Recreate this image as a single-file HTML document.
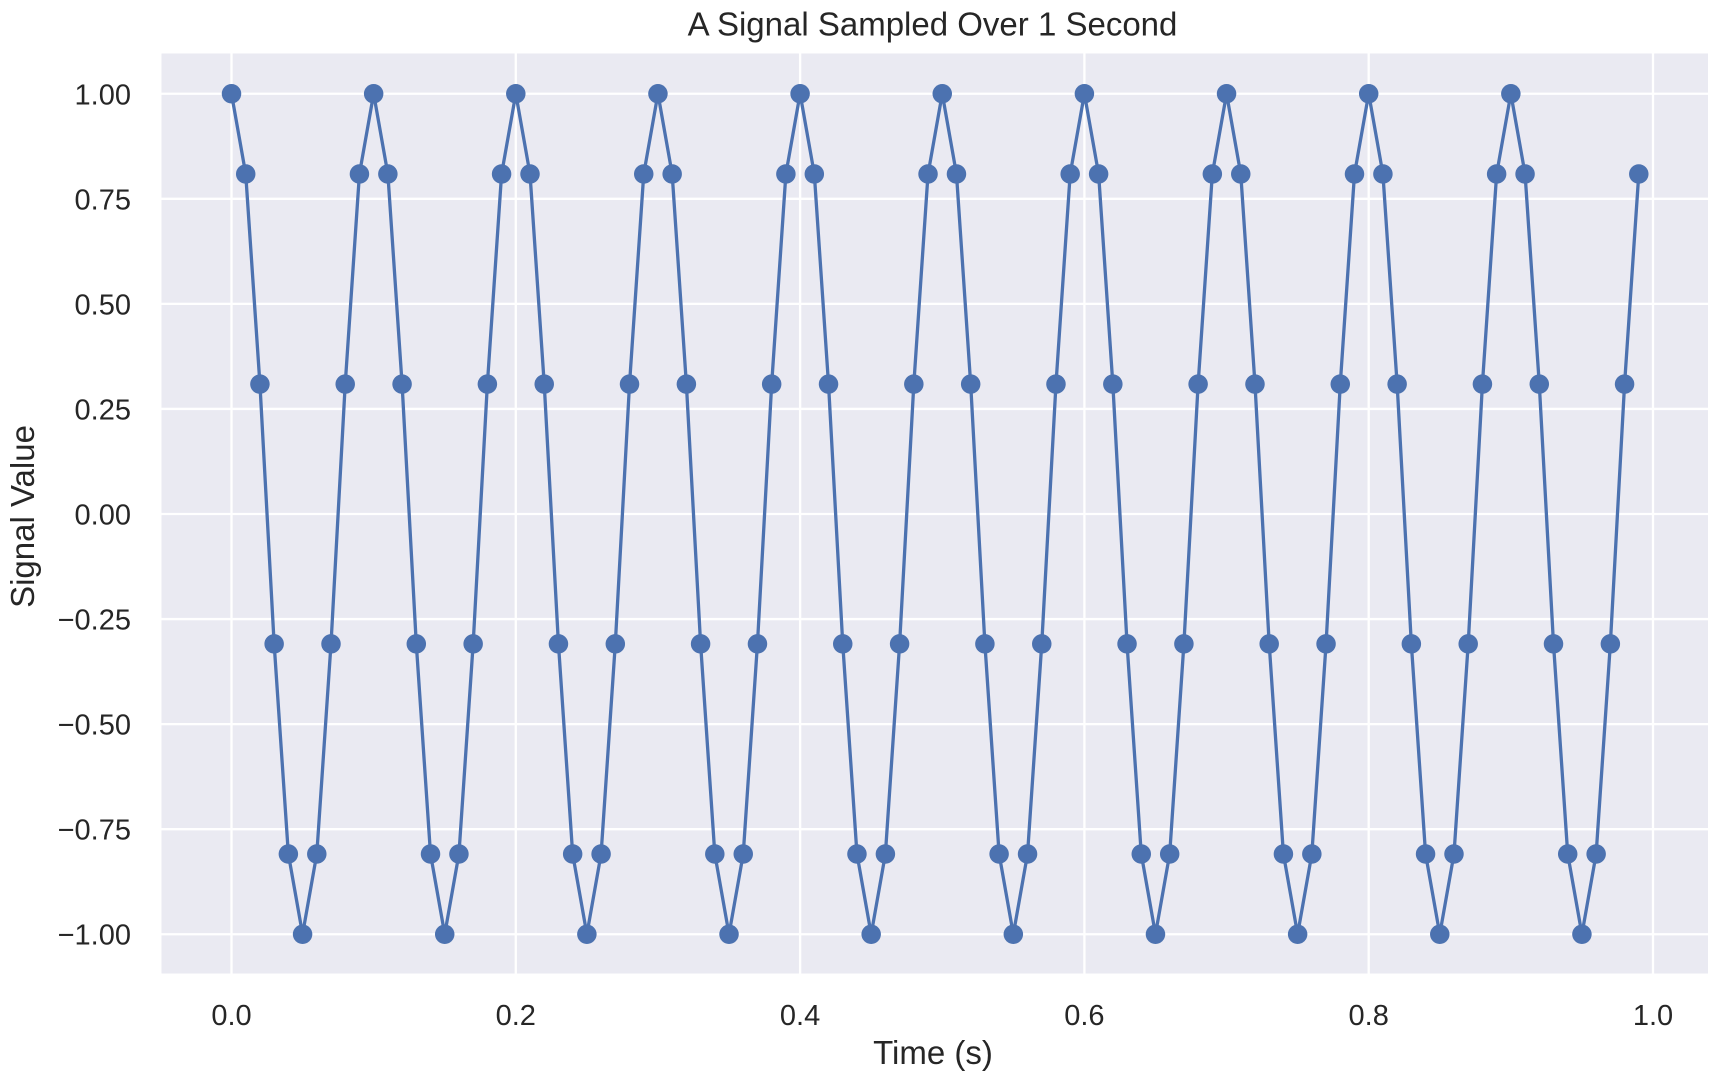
<!DOCTYPE html>
<html>
<head>
<meta charset="utf-8">
<style>
html,body{margin:0;padding:0;background:#ffffff;}
svg{display:block;}
text{font-family:"Liberation Sans",Arial,sans-serif;fill:#262626;}
</style>
</head>
<body>
<svg width="1724" height="1078" viewBox="0 0 1724 1078" xmlns="http://www.w3.org/2000/svg">
<defs>
<marker id="m" markerWidth="22" markerHeight="22" refX="11" refY="11" markerUnits="userSpaceOnUse" overflow="visible">
<circle cx="11" cy="11" r="9.75" fill="#4C72B0"/>
</marker>
</defs>
<rect x="0" y="0" width="1724" height="1078" fill="#ffffff"/>
<rect x="161.5" y="53.5" width="1546.5" height="920" fill="#EAEAF2"/>
<g stroke="#ffffff" stroke-width="2.3" fill="none">
<line x1="161.5" x2="1708" y1="93.75" y2="93.75"/>
<line x1="161.5" x2="1708" y1="198.81" y2="198.81"/>
<line x1="161.5" x2="1708" y1="303.88" y2="303.88"/>
<line x1="161.5" x2="1708" y1="408.94" y2="408.94"/>
<line x1="161.5" x2="1708" y1="514" y2="514"/>
<line x1="161.5" x2="1708" y1="619.06" y2="619.06"/>
<line x1="161.5" x2="1708" y1="724.13" y2="724.13"/>
<line x1="161.5" x2="1708" y1="829.19" y2="829.19"/>
<line x1="161.5" x2="1708" y1="934.25" y2="934.25"/>
<line y1="53.5" y2="973.5" x1="231.5" x2="231.5"/>
<line y1="53.5" y2="973.5" x1="515.8" x2="515.8"/>
<line y1="53.5" y2="973.5" x1="800.1" x2="800.1"/>
<line y1="53.5" y2="973.5" x1="1084.4" x2="1084.4"/>
<line y1="53.5" y2="973.5" x1="1368.7" x2="1368.7"/>
<line y1="53.5" y2="973.5" x1="1653" x2="1653"/>
</g>
<path fill="none" stroke="#4C72B0" stroke-width="3.3" stroke-linejoin="round" marker-start="url(#m)" marker-mid="url(#m)" marker-end="url(#m)" d="M231.5 93.75
l14.215 80.26 l14.215 210.12 l14.215 259.74 l14.215 210.12 l14.215 80.26 l14.215 -80.26 l14.215 -210.12 l14.215 -259.74 l14.215 -210.12 l14.215 -80.26
l14.215 80.26 l14.215 210.12 l14.215 259.74 l14.215 210.12 l14.215 80.26 l14.215 -80.26 l14.215 -210.12 l14.215 -259.74 l14.215 -210.12 l14.215 -80.26
l14.215 80.26 l14.215 210.12 l14.215 259.74 l14.215 210.12 l14.215 80.26 l14.215 -80.26 l14.215 -210.12 l14.215 -259.74 l14.215 -210.12 l14.215 -80.26
l14.215 80.26 l14.215 210.12 l14.215 259.74 l14.215 210.12 l14.215 80.26 l14.215 -80.26 l14.215 -210.12 l14.215 -259.74 l14.215 -210.12 l14.215 -80.26
l14.215 80.26 l14.215 210.12 l14.215 259.74 l14.215 210.12 l14.215 80.26 l14.215 -80.26 l14.215 -210.12 l14.215 -259.74 l14.215 -210.12 l14.215 -80.26
l14.215 80.26 l14.215 210.12 l14.215 259.74 l14.215 210.12 l14.215 80.26 l14.215 -80.26 l14.215 -210.12 l14.215 -259.74 l14.215 -210.12 l14.215 -80.26
l14.215 80.26 l14.215 210.12 l14.215 259.74 l14.215 210.12 l14.215 80.26 l14.215 -80.26 l14.215 -210.12 l14.215 -259.74 l14.215 -210.12 l14.215 -80.26
l14.215 80.26 l14.215 210.12 l14.215 259.74 l14.215 210.12 l14.215 80.26 l14.215 -80.26 l14.215 -210.12 l14.215 -259.74 l14.215 -210.12 l14.215 -80.26
l14.215 80.26 l14.215 210.12 l14.215 259.74 l14.215 210.12 l14.215 80.26 l14.215 -80.26 l14.215 -210.12 l14.215 -259.74 l14.215 -210.12 l14.215 -80.26
l14.215 80.26 l14.215 210.12 l14.215 259.74 l14.215 210.12 l14.215 80.26 l14.215 -80.26 l14.215 -210.12 l14.215 -259.74 l14.215 -210.12"/>
<g font-size="29" text-anchor="end">
<text x="131" y="104.5">1.00</text>
<text x="131" y="209.5">0.75</text>
<text x="131" y="314.5">0.50</text>
<text x="131" y="419.5">0.25</text>
<text x="131" y="524.5">0.00</text>
<text x="131" y="629.5">−0.25</text>
<text x="131" y="734.5">−0.50</text>
<text x="131" y="839.5">−0.75</text>
<text x="131" y="944.5">−1.00</text>
</g>
<g font-size="29" text-anchor="middle">
<text x="231.5" y="1025">0.0</text>
<text x="515.8" y="1025">0.2</text>
<text x="800.1" y="1025">0.4</text>
<text x="1084.4" y="1025">0.6</text>
<text x="1368.7" y="1025">0.8</text>
<text x="1653" y="1025">1.0</text>
</g>
<text x="933" y="1064" font-size="33" text-anchor="middle">Time (s)</text>
<text transform="translate(34,516.5) rotate(-90)" font-size="33" text-anchor="middle">Signal Value</text>
<text x="932.5" y="35.5" font-size="33" text-anchor="middle">A Signal Sampled Over 1 Second</text>
</svg>
</body>
</html>
